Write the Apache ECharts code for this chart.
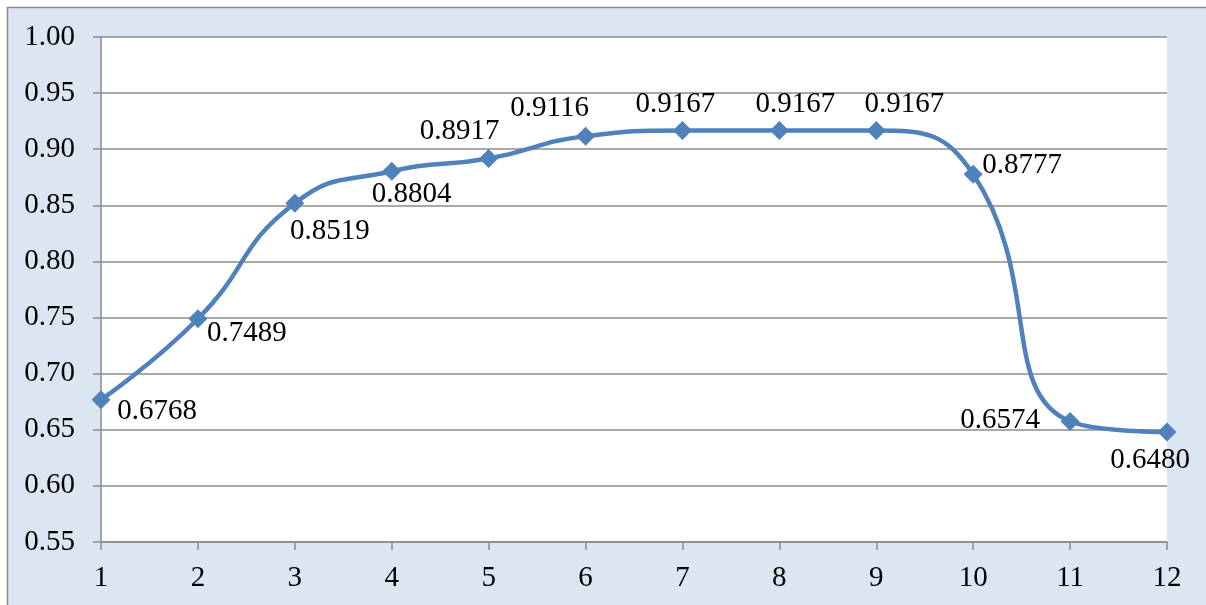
<!DOCTYPE html>
<html>
<head>
<meta charset="utf-8">
<script src="https://cdn.jsdelivr.net/npm/echarts@6/dist/echarts.min.js"></script>
<style>
html,body{margin:0;padding:0;background:#fff;}
#chart{width:1206px;height:605px;}
</style>
</head>
<body>
<div id="chart"></div>
<script>
var categories = ['1','2','3','4','5','6','7','8','9','10','11','12'];
var accuracy = [0.6768, 0.7489, 0.8519, 0.8804, 0.8917, 0.9116, 0.9167, 0.9167, 0.9167, 0.8777, 0.6574, 0.6480];
var yTicks = { min: 0.55, max: 1.00, interval: 0.05 };

// label offsets (style only)
var labelOffsets = [[56,12],[49,15],[35,28],[20,23],[-29,-27],[-36,-28],[-7,-26],[16,-26],[28,-26],[49,-9],[-70,-1],[-17,28]];

var chart = echarts.init(document.getElementById('chart'));
var font = '"Liberation Serif", "Times New Roman", serif';
var option = {
  backgroundColor: '#ffffff',
  animation: false,
  graphic: [{
    type: 'rect', z: -10, silent: true,
    shape: { x: 7.5, y: 7.5, width: 1220, height: 620 },
    style: { fill: '#DCE6F2', stroke: '#8C8C8C', lineWidth: 1.5 }
  }],
  grid: { left: 101, right: 39, top: 37, bottom: 63, show: true, backgroundColor: '#ffffff', borderWidth: 0 },
  xAxis: {
    type: 'category', data: categories, boundaryGap: false,
    axisLine: { lineStyle: { color: '#8C8C8C', width: 1.5 } },
    axisTick: { show: true, length: 8, alignWithLabel: true, lineStyle: { color: '#8C8C8C', width: 1.5 } },
    axisLabel: { color: '#000', fontFamily: font, fontSize: 29, margin: 22 },
    splitLine: { show: false }
  },
  yAxis: {
    type: 'value', min: yTicks.min, max: yTicks.max, interval: yTicks.interval,
    axisLine: { show: true, lineStyle: { color: '#8C8C8C', width: 1.5 } },
    axisTick: { show: true, length: 8, lineStyle: { color: '#8C8C8C', width: 1.5 } },
    axisLabel: { color: '#000', fontFamily: font, fontSize: 29, margin: 26, formatter: function(v){ return v.toFixed(2); } },
    splitLine: { show: true, lineStyle: { color: '#8C8C8C', width: 1.5 } }
  },
  series: [{
    type: 'line',
    data: accuracy.map(function(v, i){
      return { value: v, label: { offset: labelOffsets[i] } };
    }),
    smooth: 0.5,
    symbol: 'diamond', symbolSize: 19,
    itemStyle: { color: '#4F81BD' },
    lineStyle: { color: '#4F81BD', width: 4.5 },
    label: {
      show: true, position: 'inside', align: 'center', verticalAlign: 'middle',
      color: '#000', fontFamily: font, fontSize: 29,
      formatter: function(p){ return p.value.toFixed(4); }
    }
  }]
};
chart.setOption(option);
</script>
</body>
</html>
